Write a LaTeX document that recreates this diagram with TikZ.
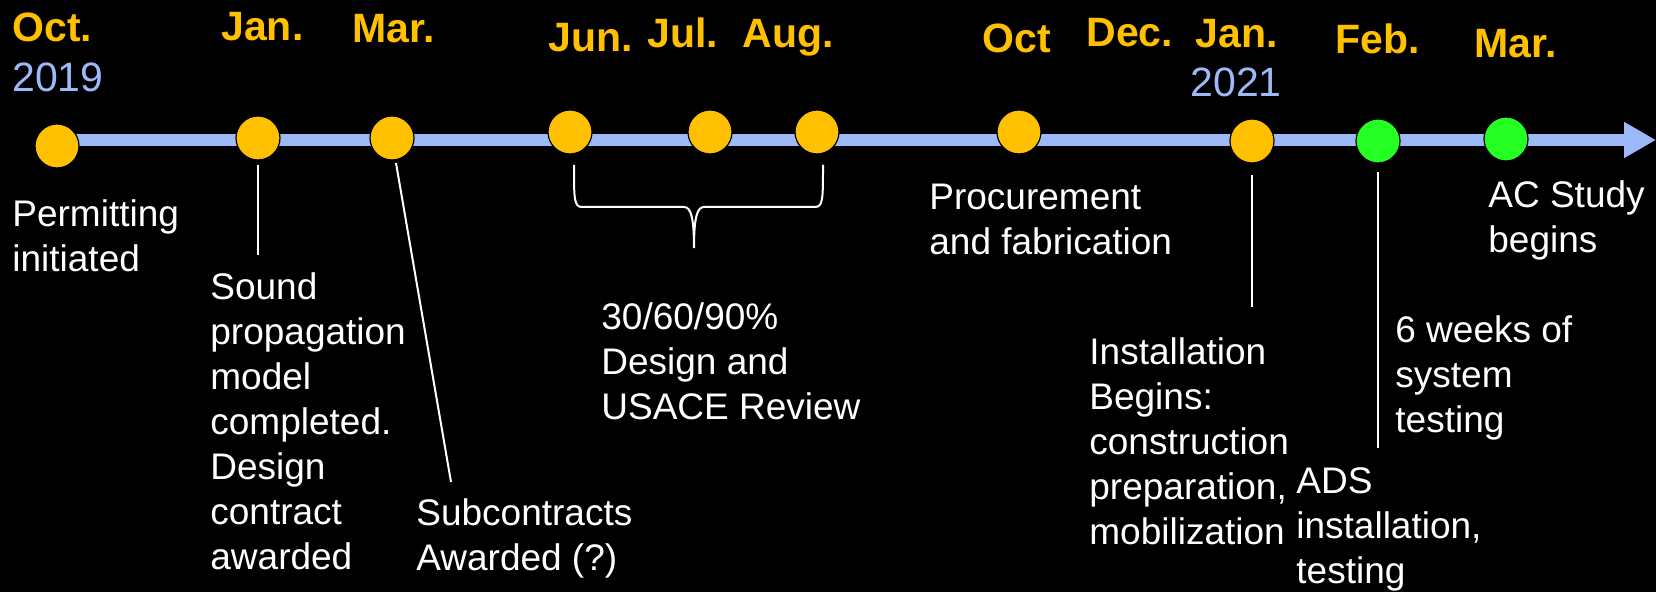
\documentclass[tikz,border=0pt]{standalone}
\usepackage{fontspec}
\setmainfont{Liberation Sans}
\usepackage{tikz}
\usetikzlibrary{calc}
\usetikzlibrary{arrows.meta}

\definecolor{monthorange}{RGB}{255,192,0}
\definecolor{axisblue}{RGB}{157,185,248}
\definecolor{dotgreen}{RGB}{36,255,36}

\tikzset{
  month/.style={text=monthorange, font=\bfseries\fontsize{20.5pt}{24pt}\selectfont, inner sep=0pt, anchor=base west},
  year/.style={text=axisblue, font=\fontsize{20.5pt}{24pt}\selectfont, inner sep=0pt, anchor=base west},
  note/.style={text=white, font=\fontsize{18.5pt}{22.5pt}\selectfont, align=left, inner sep=0pt, anchor=base west},
  dot/.style={circle, draw=black, line width=0.6pt, fill=monthorange, minimum size=22pt, inner sep=0pt},
  leader/.style={draw=white, line width=1pt},
  timeline/.style={draw=axisblue, line width=5.75pt, -{Triangle[length=16pt,width=17pt]}}
}

\begin{document}
\begin{tikzpicture}[x=0.5pt,y=-0.5pt]
\fill[black] (0,0) rectangle (1656,592);
\useasboundingbox (0,0) rectangle (1656,592);

\coordinate (d_oct) at (57,146);
\coordinate (d_jan) at (258,138);
\coordinate (d_mar) at (392,138);
\coordinate (d_jun) at (570,132);
\coordinate (d_jul) at (710,132);
\coordinate (d_aug) at (817,132);
\coordinate (d_octb) at (1019,132);
\coordinate (d_janb) at (1252,141);
\coordinate (d_feb) at (1378,141);
\coordinate (d_marb) at (1506,139);

\coordinate (a_start) at (57,140);
\coordinate (a_end) at (1656,140);

\draw [timeline] (a_start)--(a_end);

\node [dot] (c_oct) at (d_oct) {};
\node [dot] (c_jan) at (d_jan) {};
\node [dot] (c_mar) at (d_mar) {};
\node [dot] (c_jun) at (d_jun) {};
\node [dot] (c_jul) at (d_jul) {};
\node [dot] (c_aug) at (d_aug) {};
\node [dot] (c_octb) at (d_octb) {};
\node [dot] (c_janb) at (d_janb) {};
\node [dot, fill=dotgreen] (c_feb) at (d_feb) {};
\node [dot, fill=dotgreen] (c_marb) at (d_marb) {};

% months and years
\node [month] (m_oct) at (12,42) {Oct.};
\node [year] (y_2019) at (12,92) {2019};
\node [month] (m_jan) at (221,41) {Jan.};
\node [month] (m_mar) at (352,43) {Mar.};
\node [month] (m_jun) at (548,52) {Jun.};
\node [month] (m_jul) at (647,48) {Jul.};
\node [month] (m_aug) at (742,48) {Aug.};
\node [month] (m_octb) at (982,53) {Oct};
\node [month] (m_dec) at (1086,47) {Dec.};
\node [month] (m_janb) at (1195,48) {Jan.};
\node [year] (y_2021) at (1190,97) {2021};
\node [month] (m_feb) at (1335,54) {Feb.};
\node [month] (m_marb) at (1474,58) {Mar.};

% notes (placed at the baseline of their last line)
\node [note] (t_permit) at (12,272) {Permitting\\initiated};
\node [note] (t_sound) at (210,570) {Sound\\propagation\\model\\completed.\\Design\\contract\\awarded};
\node [note] (t_subcon) at (416,571) {Subcontracts\\Awarded (?)};
\node [note] (t_design) at (601,420) {30/60/90\%\\Design and\\USACE Review};
\node [note] (t_procure) at (929,255) {Procurement\\and fabrication};
\node [note] (t_install) at (1089,545) {Installation\\Begins:\\construction\\preparation,\\mobilization};
\node [note] (t_ads) at (1296,584) {ADS\\installation,\\testing};
\node [note] (t_weeks) at (1395,433) {6 weeks of\\system\\testing};
\node [note] (t_acstudy) at (1488,253) {AC Study\\begins};

\coordinate (e_jan) at (258,255);
\coordinate (e_mar) at (451,482);
\coordinate (e_janb) at (1252,307);
\coordinate (e_feb) at (1378,448);

\draw [leader] ($(c_jan)+(0,27)$)--(e_jan);
\draw [leader] ($(c_mar)+(4,25)$)--(e_mar);
\draw [leader] ($(c_janb)+(0,34)$)--(e_janb);
\draw [leader] ($(c_feb)+(0,31)$)--(e_feb);

% brace under Jun.--Aug.
\coordinate (b_l) at (574,165);
\coordinate (b_r) at (823,165);
\coordinate (b_tip) at (694,248);
\draw [leader] (b_l) .. controls +(0,34) and +(-8,0) .. ($(b_l)+(8,42)$)--($(b_tip)+(-10,-41)$)
  .. controls +(7,0) and +(0,-30) .. (b_tip)
  .. controls +(0,-30) and +(-7,0) .. ($(b_tip)+(10,-41)$)--($(b_r)+(-8,42)$)
  .. controls +(8,0) and +(0,34) .. (b_r);

\end{tikzpicture}
\end{document}
